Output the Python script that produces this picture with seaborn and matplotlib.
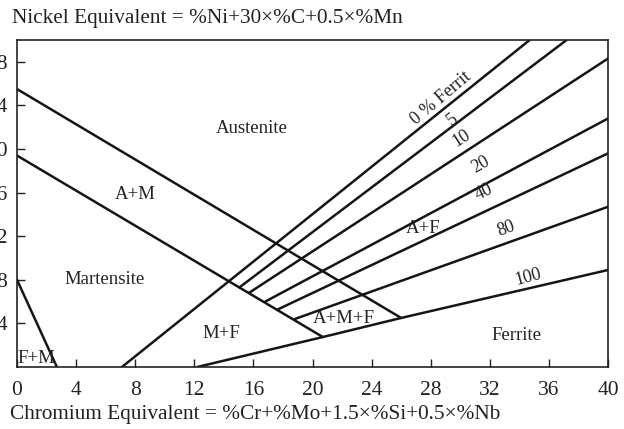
import numpy as np
import pandas as pd
import matplotlib
matplotlib.use("Agg")
import matplotlib.pyplot as plt
import seaborn as sns

# ---- data ----
line_ids = ["A_AM", "AM_M", "F_M", "f0", "f5", "f10", "f20", "f40", "f80", "f100"]
line_x = [
    [0.0, 26.0],
    [0.0, 20.7],
    [0.0, 2.7],
    [7.1, 34.7],
    [15.05, 37.2],
    [15.7, 40.0],
    [16.8, 40.0],
    [17.6, 40.0],
    [18.8, 40.0],
    [12.2, 20.7, 26.0, 40.0],
]
line_y = [
    [25.5, 4.5],
    [19.4, 2.75],
    [8.0, 0.0],
    [0.0, 30.0],
    [7.3, 30.0],
    [6.8, 28.3],
    [6.0, 22.8],
    [5.25, 19.6],
    [4.4, 14.7],
    [0.0, 2.75, 4.5, 8.9],
]

region_labels = ["Austenite", "A+M", "Martensite", "F+M", "M+F", "A+M+F", "A+F", "Ferrite"]
region_x = [15.9, 8.0, 5.9, 0.05, 13.8, 22.1, 27.5, 33.8]
region_y = [21.9, 15.8, 8.0, 0.8, 3.05, 4.45, 12.7, 2.9]

ferrite_labels = ["0 % Ferrit", "5", "10", "20", "40", "80", "100"]
ferrite_x = [28.7, 29.5, 30.1, 31.4, 31.6, 33.1, 34.6]
ferrite_y = [24.7, 22.7, 21.0, 18.6, 16.0, 12.7, 8.2]
ferrite_rot = [40, 38, 33, 30, 25, 20, 15]

x_ticks = [0, 4, 8, 12, 16, 20, 24, 28, 32, 36, 40]
y_ticks = [4, 8, 12, 16, 20, 24, 28]

title_text = "Nickel Equivalent = %Ni+30×%C+0.5×%Mn"
xlabel_text = "Chromium Equivalent = %Cr+%Mo+1.5×%Si+0.5×%Nb"

# ---- build long table ----
rows = []
for lid, xs, ys in zip(line_ids, line_x, line_y):
    for i, (xv, yv) in enumerate(zip(xs, ys)):
        rows.append({"line": lid, "order": i, "x": xv, "y": yv})
df = pd.DataFrame(rows)

sns.set_theme(style="white")
plt.rcParams["font.family"] = ["Liberation Serif", "DejaVu Serif"]
TXT = "#222222"

fig = plt.figure(figsize=(6.24, 4.29), dpi=100)
ax = fig.add_axes([17 / 624, (429 - 367) / 429, 591 / 624, 327 / 429])

sns.lineplot(data=df, x="x", y="y", units="line", estimator=None, sort=False,
             color="#151515", linewidth=1.8, ax=ax, legend=False)

ax.set_xlim(0, 40)
ax.set_ylim(0, 30)
ax.set_xticks(x_ticks)
ax.set_yticks(y_ticks)
ax.set_xticklabels([str(t) for t in x_ticks])
ax.set_yticklabels([str(t) for t in y_ticks])
ax.tick_params(axis="both", direction="in", length=6, width=1.0, color="#222222",
               labelsize=15.5, labelcolor=TXT)
ax.tick_params(axis="x", pad=10)
ax.tick_params(axis="y", pad=7)
ax.tick_params(top=False, right=False, bottom=True, left=True)
for s in ax.spines.values():
    s.set_visible(True)
    s.set_color("#222222")
    s.set_linewidth(1.2)

ax.set_xlabel("")
ax.set_ylabel("")

for lab, xv, yv in zip(region_labels, region_x, region_y):
    ha = "left" if lab == "F+M" else "center"
    ax.text(xv, yv, lab, ha=ha, va="center", fontsize=13.5, color=TXT)

for lab, xv, yv, r in zip(ferrite_labels, ferrite_x, ferrite_y, ferrite_rot):
    ax.text(xv, yv, lab, ha="center", va="center", fontsize=13, color=TXT,
            rotation=r, rotation_mode="anchor")

fig.text(12 / 624, 1 - 18 / 429, title_text, ha="left", va="center",
         fontsize=15.3, color=TXT)
fig.text(10 / 624, 1 - 415 / 429, xlabel_text, ha="left", va="center",
         fontsize=15.3, color=TXT)

fig.savefig("out.png", dpi=100)
